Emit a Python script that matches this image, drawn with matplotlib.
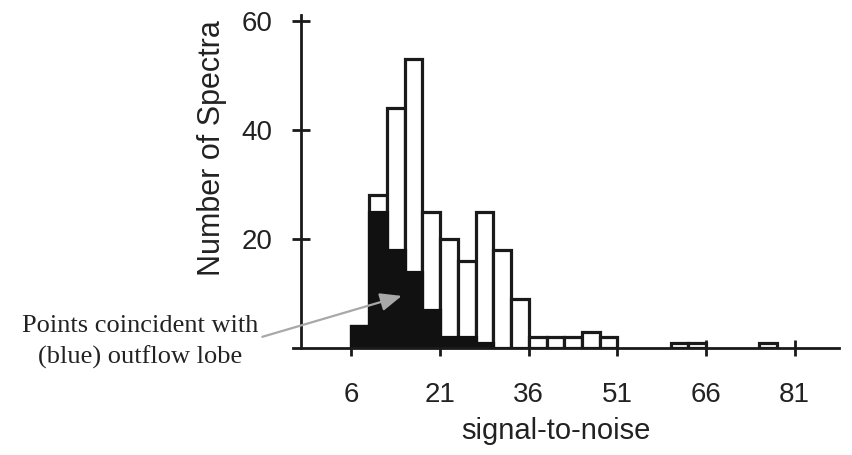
import matplotlib.pyplot as plt
import numpy as np

# histogram of signal-to-noise, bins 3 wide starting at 6
bin_left = [6, 9, 12, 15, 18, 21, 24, 27, 30, 33, 36, 39, 42, 45, 48,
            51, 54, 57, 60, 63, 66, 69, 72, 75]
all_counts = [4, 28, 44, 53, 25, 20, 16, 25, 18, 9, 2, 2, 2, 3, 2,
              0, 0, 0, 1, 1, 0, 0, 0, 1]
lobe_counts = [4, 25, 18, 14, 7, 2, 2, 1, 0, 0, 0, 0, 0, 0, 0,
               0, 0, 0, 0, 0, 0, 0, 0, 0]
bin_width = 3
x_ticks = [6, 21, 36, 51, 66, 81]
y_ticks = [20, 40, 60]

plt.rcParams['font.family'] = ['Liberation Sans', 'DejaVu Sans']

fig = plt.figure(figsize=(8.53, 4.55), dpi=100)
ax = fig.add_axes([293 / 853, 1 - 348.3 / 455, 546 / 853, 333 / 455])

left = np.array(bin_left)
tot = np.array(all_counts)
lobe = np.array(lobe_counts)
m = tot > 0
ax.bar(left[m], tot[m], width=bin_width, align='edge', facecolor='white',
       edgecolor='#1a1a1a', linewidth=2.3, zorder=2)
m = lobe > 0
ax.bar(left[m], lobe[m], width=bin_width, align='edge', facecolor='#111111',
       edgecolor='#111111', linewidth=2.3, zorder=3)

ax.set_xlim(-3.9, 88.5)
ax.set_ylim(0, 61)
ax.spines['left'].set_position(('data', -2.5))
ax.spines['left'].set_bounds(0, 61)
ax.spines['top'].set_visible(False)
ax.spines['right'].set_visible(False)
for s in ['left', 'bottom']:
    ax.spines[s].set_linewidth(2)
    ax.spines[s].set_color('#1a1a1a')
    ax.spines[s].set_zorder(4)

ax.set_xticks(x_ticks)
ax.set_yticks(y_ticks)
ax.tick_params(axis='x', direction='inout', length=12, width=2, pad=18,
               labelsize=20, color='#1a1a1a', labelcolor='#222222')
ax.tick_params(axis='y', direction='inout', length=13, width=2, pad=14,
               labelsize=20, color='#1a1a1a', labelcolor='#222222')

ax.set_xlabel('signal-to-noise', fontsize=21, color='#222222')
ax.xaxis.set_label_coords((556 - 293) / 546, -0.205)
ax.set_ylabel('Number of Spectra', fontsize=22, color='#222222')
ax.yaxis.set_label_coords(-0.121, 0.6)

# arrow pointing at the filled bars
ax.annotate('', xy=(14.5, 9.6), xytext=(-9.1, 2.1),
            xycoords='data', textcoords='data', annotation_clip=False,
            arrowprops=dict(arrowstyle='-|>,head_length=1.3,head_width=0.55',
                            color='#a8a8a8', lw=1.6, shrinkA=0, shrinkB=0),
            zorder=5)
fig.text(140 / 853, 1 - 342 / 455, 'Points coincident with\n(blue) outflow lobe',
         ha='center', va='center', fontsize=19, family='Liberation Serif',
         linespacing=1.45, color='#222222')

plt.savefig('out.png', dpi=100)
